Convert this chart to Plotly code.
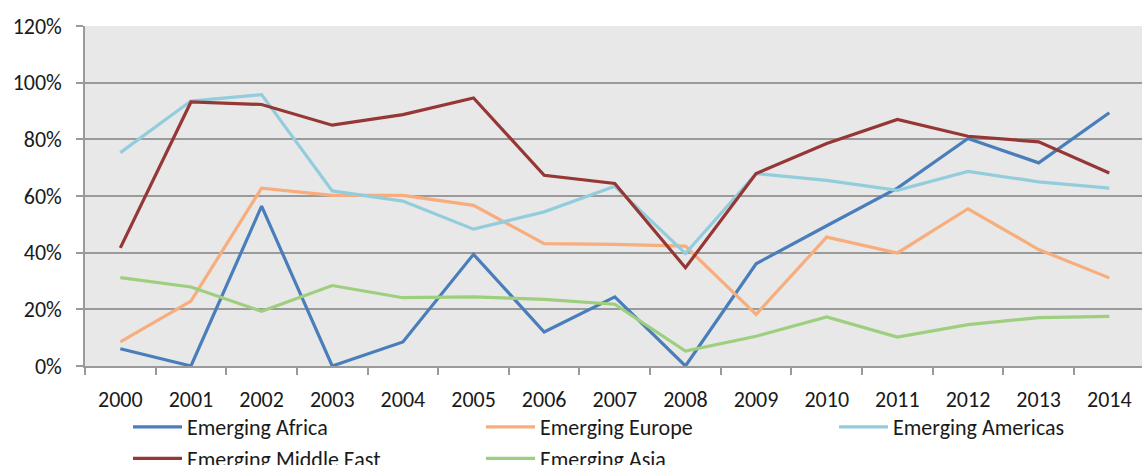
import plotly.graph_objects as go

years = [str(y) for y in range(2000, 2015)]

emerging_africa = [0.061, 0.0, 0.564, 0.0, 0.085, 0.394, 0.120, 0.244, 0.0, 0.361,
                   0.495, 0.628, 0.803, 0.717, 0.894]
emerging_europe = [0.085, 0.229, 0.628, 0.602, 0.602, 0.567, 0.432, 0.429, 0.423, 0.182,
                   0.455, 0.399, 0.555, 0.411, 0.311]
emerging_americas = [0.753, 0.935, 0.958, 0.618, 0.582, 0.483, 0.544, 0.634, 0.397, 0.679,
                     0.655, 0.620, 0.687, 0.650, 0.628]
emerging_middle_east = [0.417, 0.932, 0.923, 0.850, 0.887, 0.946, 0.673, 0.644, 0.347, 0.679,
                        0.785, 0.870, 0.811, 0.791, 0.681]
emerging_asia = [0.312, 0.279, 0.193, 0.284, 0.241, 0.244, 0.235, 0.218, 0.053, 0.105,
                 0.173, 0.102, 0.146, 0.171, 0.175]

series = [
    ("Emerging Africa", emerging_africa, "#4A7EBB"),
    ("Emerging Europe", emerging_europe, "#F7AD7C"),
    ("Emerging Americas", emerging_americas, "#93CDDD"),
    ("Emerging Middle East", emerging_middle_east, "#953735"),
    ("Emerging Asia", emerging_asia, "#9DCF7E"),
]

FONT = "Carlito, Open Sans, sans-serif"

fig = go.Figure()
for name, values, color in series:
    fig.add_trace(go.Scatter(
        x=years, y=values, name=name, mode="lines",
        line=dict(color=color, width=3.2),
    ))

fig.update_layout(
    width=1142, height=465,
    margin=dict(l=85, r=0, t=26, b=99, autoexpand=False),
    paper_bgcolor="white",
    plot_bgcolor="#E8E8E8",
    font=dict(family=FONT, size=22, color="#1a1a1a"),
    showlegend=True,
    legend=dict(
        orientation="h",
        xref="container", yref="container",
        x=128 / 1142, y=1 - 406 / 465,
        xanchor="left", yanchor="top",
        entrywidth=289, entrywidthmode="pixels",
        itemwidth=49,
        font=dict(family=FONT, size=22, color="#1a1a1a"),
        bgcolor="rgba(0,0,0,0)",
        traceorder="normal",
    ),
)

fig.update_xaxes(
    type="category",
    range=[-0.5, 14.463],
    showgrid=False,
    showline=True, linecolor="#9A9A9A", linewidth=1.5,
    ticks="outside", tickson="boundaries", ticklen=7, tickcolor="#9A9A9A", tickwidth=1.5,
    ticklabelstandoff=13,
    zeroline=False,
)

fig.update_yaxes(
    range=[0, 1.2],
    dtick=0.2, tick0=0,
    tickformat=".0%",
    showgrid=True, gridcolor="#9A9A9A", gridwidth=1.5,
    showline=True, linecolor="#9A9A9A", linewidth=1.5,
    ticks="outside", ticklen=7, tickcolor="#9A9A9A", tickwidth=1.5,
    ticklabelstandoff=10,
    zeroline=False,
)

fig.write_html("out.html")
